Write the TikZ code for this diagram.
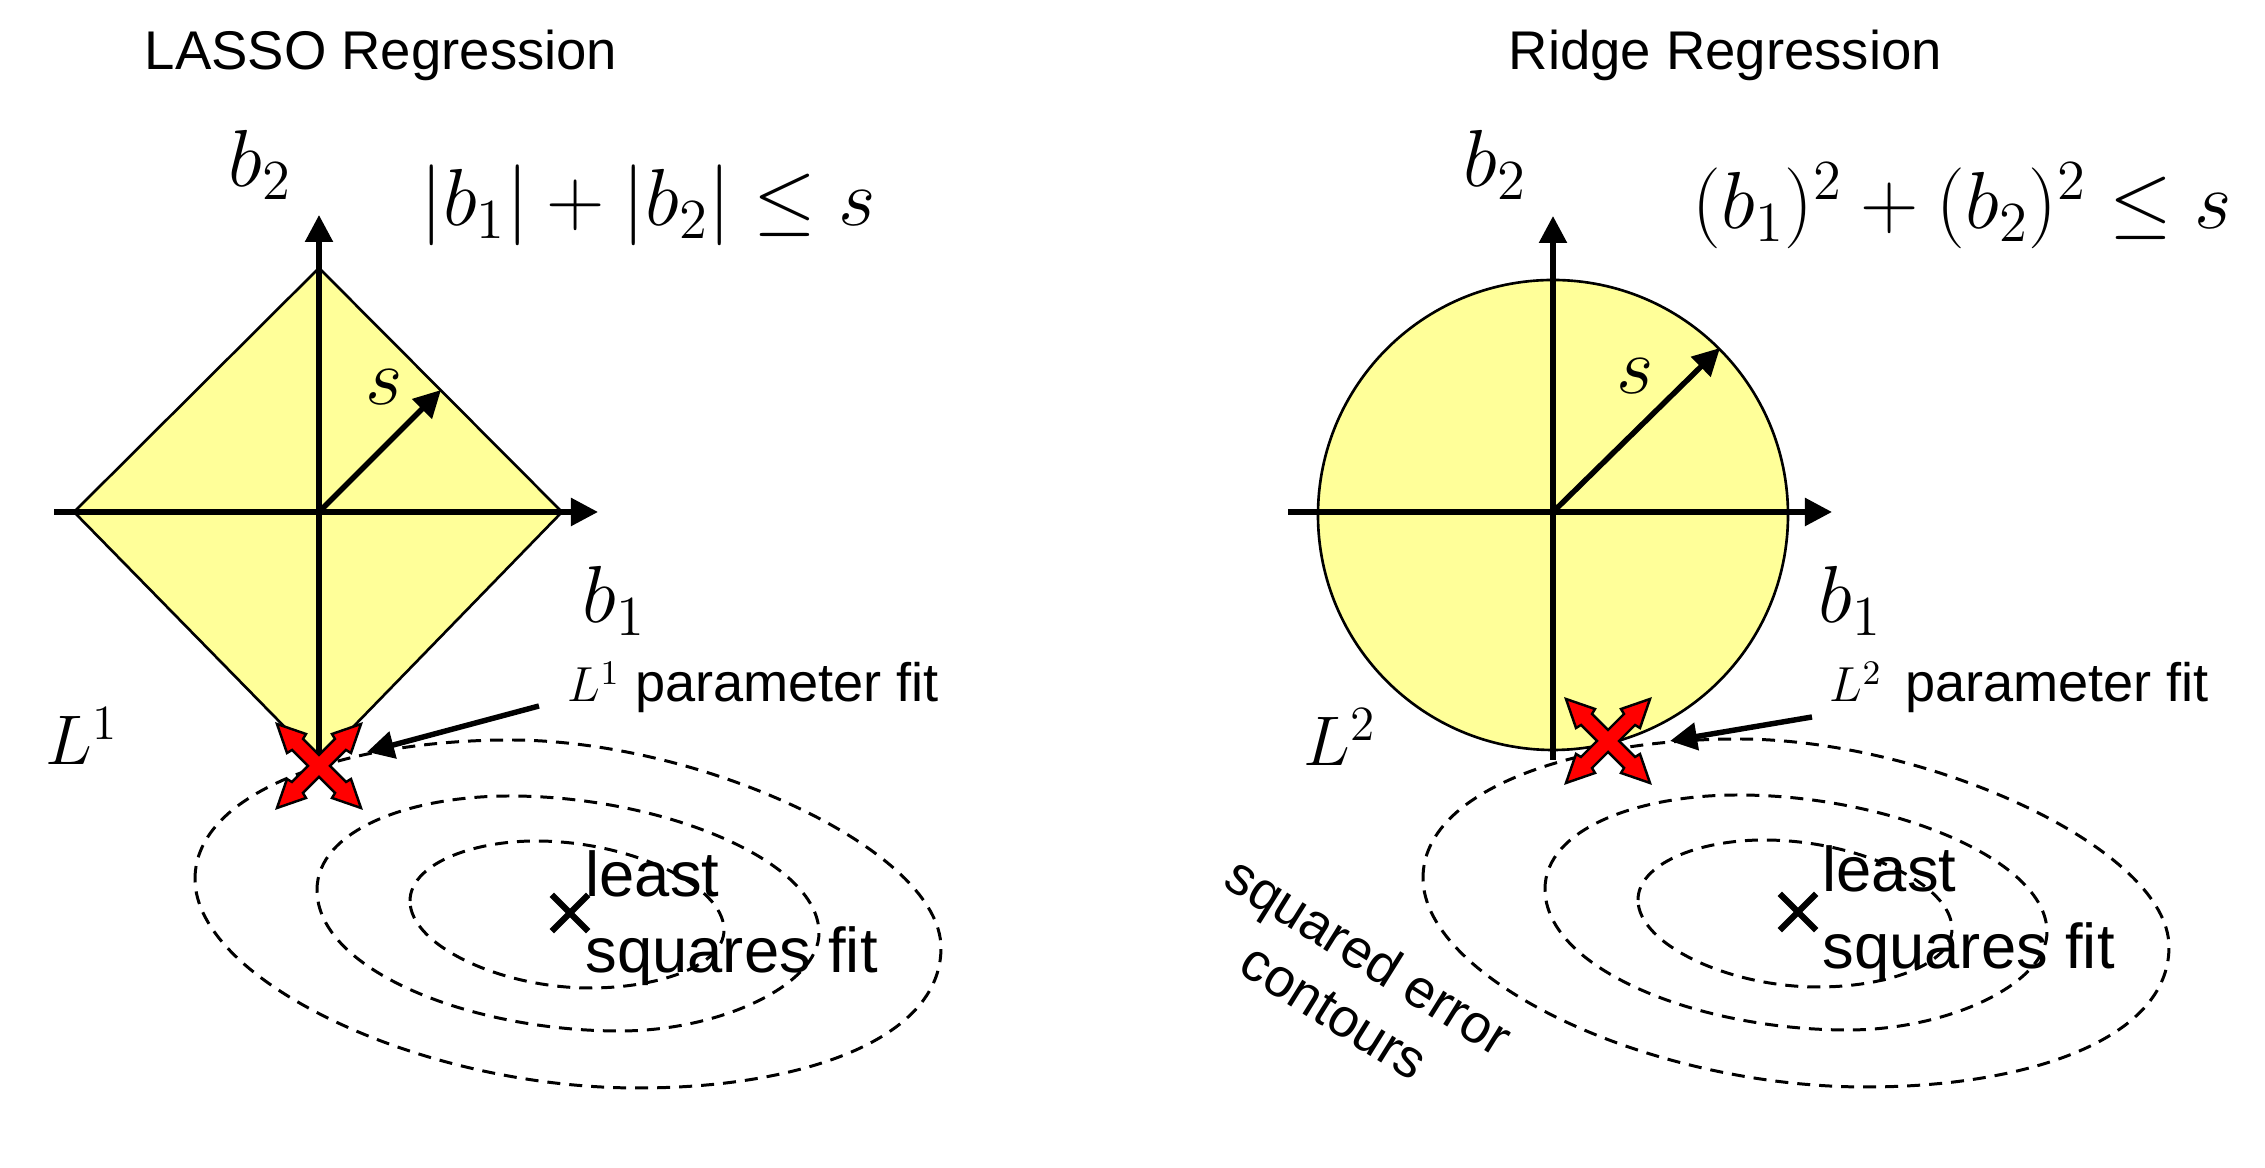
\documentclass[tikz,border=0pt]{standalone}
\usepackage{fix-cm}
\usepackage[no-math]{fontspec}
\setmainfont{Liberation Sans}
\usetikzlibrary{arrows.meta,shapes.misc}
\definecolor{ballyellow}{HTML}{FFFF99}

\tikzset{
    contours/.pic={
        \draw[contour] (195,879) .. controls (195,790) and (350,740) .. (510,740) .. controls (700,740) and (941,850) .. (941,948) .. controls (941,1040) and (800,1088) .. (638,1088) .. controls (420,1088) and (195,980) .. cycle;
        \draw[contour] (317,890) .. controls (317,830) and (410,796) .. (510,796) .. controls (660,796) and (819,860) .. (819,933) .. controls (819,985) and (720,1031) .. (620,1031) .. controls (470,1031) and (317,970) .. cycle;
        \draw[contour] (410,901) .. controls (410,865) and (470,841) .. (536,841) .. controls (630,841) and (724,885) .. (724,930) .. controls (724,965) and (660,988) .. (590,988) .. controls (500,988) and (410,945) .. cycle;
    },
    redcross/.pic={
        \draw[fill=red,line width=0.7pt,line join=miter] (0,-11) -- (16,-27) -- (13,-32) -- (42,-42) -- (32,-13) -- (27,-16) -- (11,0)
            -- (27,16) -- (32,13) -- (42,42) -- (13,32) -- (16,27) -- (0,11)
            -- (-16,27) -- (-13,32) -- (-42,42) -- (-32,13) -- (-27,16) -- (-11,0)
            -- (-27,-16) -- (-32,-13) -- (-42,-42) -- (-13,-32) -- (-16,-27) -- cycle;
    }
}

\begin{document}
\begin{tikzpicture}[
        x=0.01cm, y=-0.01cm,
        every node/.style={inner sep=0pt,anchor=base west},
        title/.style={font=\fontsize{15.5}{18}\selectfont},
        fitnote/.style={font=\fontsize{18}{21}\selectfont},
        partext/.style={font=\fontsize{15.4}{18}\selectfont},
        symbol/.style={font=\fontsize{23}{27}\selectfont},
        norm/.style={font=\fontsize{20}{24}\selectfont},
        axis/.style={line width=1.55pt,-{Triangle[length=0.27cm,width=0.27cm]}},
        ball/.style={draw,fill=ballyellow,line width=0.75pt},
        contour/.style={line width=0.85pt,dash pattern=on 0.13cm off 0.09cm},
        fitcross/.style={cross out,draw,line width=1.8pt,minimum size=0.3cm,anchor=center}
    ]
    \useasboundingbox (0,0) rectangle (2265,1168);

    % left side
    \coordinate (o1) at (319,512);
    \coordinate (xa1) at (54,512);
    \coordinate (xb1) at (598,512);
    \coordinate (ya1) at (319,762);
    \coordinate (yb1) at (319,215);
    \coordinate (sb1) at (441,390);
    \coordinate (fa1) at (539,706);
    \coordinate (fb1) at (367,752);

    \draw[ball] (319,268) -- (562,512) -- (319,762) -- (74,512) -- cycle;
    \draw[axis] (xa1) -- (xb1);
    \draw[axis] (ya1) -- (yb1);
    \draw[axis] (o1) -- (sb1);
    \pic {contours};
    \pic at (319,766) {redcross};
    \draw[axis] (fa1) -- (fb1);
    \node[fitcross] (c1) at (570,913) {};

    \node[title] (t1) at (144,70) {LASSO Regression};
    \node[symbol] (bb1) at (228,187) {$b_2$};
    \node[symbol] (ba1) at (582,623) {$b_1$};
    \node[symbol] (s1) at (365,405) {$s$};
    \node[symbol] (f1) at (420,226) {$|b_1|+|b_2|\leq s$};
    \node[norm] (l1) at (45,765) {$L^1$};
    \node[partext] (p1) at (567,702) {{\fontsize{14}{16}\selectfont$L^1$} parameter fit};
    \node[fitnote] (q1) at (585,897) {least};
    \node[fitnote] (r1) at (585,973) {squares fit};

    % right side
    \coordinate (o2) at (1553,512);
    \coordinate (xa2) at (1288,512);
    \coordinate (xb2) at (1832,512);
    \coordinate (ya2) at (1553,760);
    \coordinate (yb2) at (1553,216);
    \coordinate (sb2) at (1720,348);
    \coordinate (fa2) at (1812,717);
    \coordinate (fb2) at (1670,741);

    \draw[ball] (1553,515) circle (235);
    \draw[axis] (xa2) -- (xb2);
    \draw[axis] (ya2) -- (yb2);
    \draw[axis] (o2) -- (sb2);
    \pic at (1228,-1) {contours};
    \pic at (1608,741) {redcross};
    \draw[axis] (fa2) -- (fb2);
    \node[fitcross] (c2) at (1798,912) {};

    \node[title] (t2) at (1508,70) {Ridge Regression};
    \node[symbol] (bb2) at (1463,187) {$b_2$};
    \node[symbol] (ba2) at (1818,623) {$b_1$};
    \node[symbol] (s2) at (1616,394) {$s$};
    \node[symbol] (f2) at (1692,229) {$(b_1)^2+(b_2)^2\leq s$};
    \node[norm] (l2) at (1303,766) {$L^2$};
    \node[partext] (p2) at (1829,702) {{\fontsize{14}{16}\selectfont$L^2$}\hspace{0.08cm} parameter fit};
    \node[fitnote] (q2) at (1822,892) {least};
    \node[fitnote] (r2) at (1822,969) {squares fit};
    \node[partext,align=center,anchor=center,rotate=-32] (e2) at (1352,983) {squared error\\[0.5pt]contours};
\end{tikzpicture}
\end{document}
